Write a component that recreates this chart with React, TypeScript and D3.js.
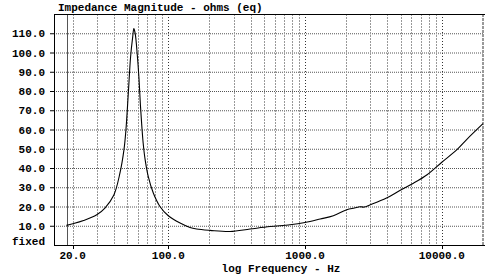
import React from 'react';
import * as d3 from 'd3';

const W = 485;
const H = 274;

// impedance curve
const freqs = [
  18, 20, 24, 30, 34.4, 40, 44.3, 47.4, 49, 51, 53, 54.9, 56, 57.3, 59.3, 61, 62.5, 64, 65.5, 67.5, 71.4, 77.7,
  86.9, 100, 122, 144, 161, 202, 283, 396, 555, 777, 1000, 1290, 1610, 2020, 2300, 2520, 2700, 3000, 3940, 4930,
  6200, 7800, 10000, 12900, 15300, 20000,
];
const ohms = [
  10.2, 11, 12.7, 15.7, 19.2, 26, 37.3, 49.4, 59.7, 78.7, 97.7, 108, 112.4, 109.8, 99, 87, 73, 62, 53, 45, 35.5,
  27, 20, 15.2, 11.4, 9.1, 8.3, 7.6, 7.0, 8.3, 9.6, 10.5, 11.7, 13.5, 15.2, 18.3, 19.2, 19.9, 19.7, 20.9, 24.4,
  28.3, 32.1, 36.5, 43, 49.5, 55, 63,
];

const yTicks = [10, 20, 30, 40, 50, 60, 70, 80, 90, 100, 110];
const xLabels = [20, 100, 1000, 10000];
const decades = [10, 100, 1000, 10000];
const startFreq = 18.1;

const FONT = "'Liberation Mono', 'DejaVu Sans Mono', monospace";

export default function App() {
  const x = d3.scaleLog().domain([14.6, 20000]).range([54, 483]);
  const y = d3.scaleLinear().domain([0, 120]).range([245, 14]);

  const [x0, x1] = x.range();
  const [y0, y1] = y.range();

  // every 1..9 x decade step inside the domain
  const minor: number[] = [];
  decades.forEach((d) => {
    for (let k = 1; k <= 9; k++) {
      const f = d * k;
      if (f >= 20 && f < 20000) minor.push(f);
    }
  });

  const line = d3
    .line<number>()
    .x((_, i) => x(freqs[i]))
    .y((d) => y(d))
    .curve(d3.curveCatmullRom.alpha(0.5));

  return (
    <svg width={W} height={H} style={{ position: 'absolute', left: 0, top: 0, background: '#fff' }}>
      {/* grid */}
      {yTicks.map((t) => (
        <line key={'h' + t} x1={x0} x2={x1} y1={y(t) + 0.5} y2={y(t) + 0.5} stroke='#555' strokeDasharray='1,1' />
      ))}
      {minor.map((f) => {
        const major = f === 100 || f === 1000 || f === 10000;
        return (
          <line
            key={'v' + f}
            x1={Math.round(x(f)) + 0.5}
            x2={Math.round(x(f)) + 0.5}
            y1={y1}
            y2={y0}
            stroke={major ? '#333' : '#999'}
            strokeDasharray={major ? '1,2' : '2,1'}
          />
        );
      })}
      <line x1={x(20000)} x2={x(20000)} y1={y1} y2={y0} stroke='#999' strokeWidth={2} strokeDasharray='3,1' />

      {/* start marker */}
      <line
        x1={Math.round(x(startFreq)) + 0.5}
        x2={Math.round(x(startFreq)) + 0.5}
        y1={y1}
        y2={y0}
        stroke='#555'
      />

      {/* frame */}
      <line x1={x0 + 0.5} x2={x0 + 0.5} y1={y1} y2={y0 + 0.5} stroke='#000' />
      <line x1={x0} x2={W} y1={y1 + 0.5} y2={y1 + 0.5} stroke='#000' />
      <line x1={x0} x2={W} y1={y0 + 0.5} y2={y0 + 0.5} stroke='#000' />

      {/* curve */}
      <path d={line(ohms) ?? ''} fill='none' stroke='#000' strokeWidth={1.1} />

      {/* y axis */}
      {yTicks.map((t) => (
        <g key={'yt' + t}>
          <line x1={x0 - 4} x2={x0} y1={y(t) + 0.5} y2={y(t) + 0.5} stroke='#000' />
          <text x={45} y={y(t) + 4} textAnchor='end' fontFamily={FONT} fontWeight='bold' fontSize={11}>
            {t.toFixed(1)}
          </text>
        </g>
      ))}
      <text x={45} y={245} textAnchor='end' fontFamily={FONT} fontWeight='bold' fontSize={11}>
        fixed
      </text>

      {/* x axis */}
      {xLabels.map((f) => (
        <g key={'xt' + f}>
          <line x1={Math.round(x(f)) + 0.5} x2={Math.round(x(f)) + 0.5} y1={y0} y2={y0 + 4} stroke='#000' />
          <text x={x(f)} y={259} textAnchor='middle' fontFamily={FONT} fontWeight='bold' fontSize={11}>
            {f.toFixed(1)}
          </text>
        </g>
      ))}
      <text x={281} y={272} textAnchor='middle' fontFamily={FONT} fontWeight='bold' fontSize={11}>
        log Frequency - Hz
      </text>

      {/* title */}
      <text x={58} y={11} fontFamily={FONT} fontWeight='bold' fontSize={11}>
        Impedance Magnitude - ohms (eq)
      </text>
    </svg>
  );
}
